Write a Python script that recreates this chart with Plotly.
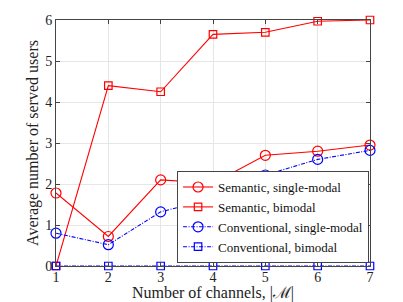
import plotly.graph_objects as go

channels = [1, 2, 3, 4, 5, 6, 7]
sem_single = [1.78, 0.72, 2.1, 2.02, 2.7, 2.8, 2.95]
sem_bimodal = [0.0, 4.4, 4.25, 5.65, 5.7, 5.97, 6.0]
conv_single = [0.8, 0.52, 1.32, 1.65, 2.22, 2.6, 2.82]
conv_bimodal = [0.0, 0.0, 0.0, 0.0, 0.0, 0.0, 0.0]

FONT = "'Liberation Serif', 'Times New Roman', 'DejaVu Serif', serif"
DASHDOT = "4px,1.5px,1px,1.5px"
fig = go.Figure()
series = [
    ("Semantic, single-modal", sem_single, "red", "solid", "circle-open"),
    ("Semantic, bimodal", sem_bimodal, "red", "solid", "square-open"),
    ("Conventional, single-modal", conv_single, "blue", DASHDOT, "circle-open"),
    ("Conventional, bimodal", conv_bimodal, "blue", DASHDOT, "square-open"),
]
for name, ys, col, dash, sym in series:
    size = 10 if sym.startswith("circle") else 7.5
    fig.add_trace(go.Scatter(
        x=channels, y=ys, name=name, mode="lines+markers",
        line=dict(color=col, width=1.1, dash=dash),
        marker=dict(symbol=sym, size=size, color=col, line=dict(width=1.2, color=col)),
        cliponaxis=False,
    ))

axis_common = dict(
    showline=True, linecolor="#444", linewidth=1, mirror="ticks",
    ticks="inside", ticklen=4, tickcolor="#444",
    showgrid=True, gridcolor="#e6e6e6", gridwidth=1, zeroline=False,
    tickfont=dict(family=FONT, size=14, color="#222"),
    automargin=False,
)
fig.update_xaxes(range=[1, 7], tickvals=channels, **axis_common, ticklabelstandoff=-2,
                 title=dict(text="Number of channels, |ℳ|", font=dict(family=FONT, size=16, color="#222"), standoff=2))
fig.update_yaxes(range=[0, 6], tickvals=[0, 1, 2, 3, 4, 5, 6], **axis_common,
                 title=dict(text="Average number of served users", font=dict(family=FONT, size=16, color="#222"), standoff=2))

fig.update_layout(
    width=395, height=294,
    margin=dict(l=47.5, r=33, t=12, b=36),
    paper_bgcolor="white", plot_bgcolor="white",
    font=dict(family=FONT),
    showlegend=True,
    legend=dict(x=0.997, y=0.012, xanchor="right", yanchor="bottom",
                bgcolor="white", bordercolor="#444", borderwidth=1,
                font=dict(family=FONT, size=13, color="#111"),
                tracegroupgap=0, itemwidth=30),
)
fig.write_html("out.html")
